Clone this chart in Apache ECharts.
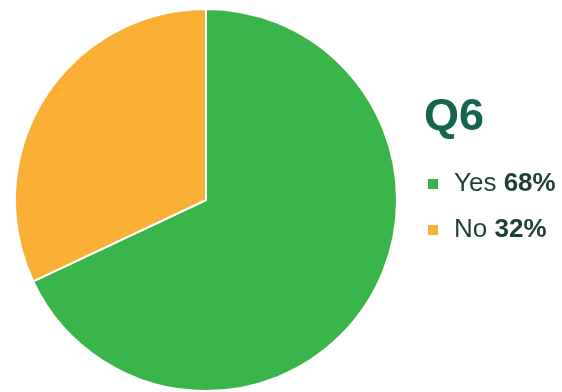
<!DOCTYPE html>
<html>
<head>
<meta charset="utf-8">
<style>
  html, body { margin: 0; padding: 0; background: #ffffff; }
  #chart { width: 562px; height: 392px; }
</style>
<script src="https://cdn.jsdelivr.net/npm/echarts@6/dist/echarts.min.js"></script>
</head>
<body>
<div id="chart"></div>
<script>
// Survey question and answer shares
const questionTitle = 'Q6';
const answers = ['Yes', 'No'];
const shares = [68, 32];
const sliceColors = ['#3ab54a', '#f9b035'];

const FONT = '"Liberation Sans", Arial, sans-serif';
const TEXT_COLOR = '#1d3f37';

const chart = echarts.init(document.getElementById('chart'), null, { renderer: 'canvas' });

const pieData = answers.map((name, i) => ({
  name: name,
  value: shares[i],
  itemStyle: { color: sliceColors[i] }
}));

chart.setOption({
  animation: false,
  backgroundColor: '#ffffff',
  title: {
    text: questionTitle,
    left: 424,
    top: 95,
    padding: 0,
    textStyle: {
      fontFamily: FONT,
      fontSize: 45,
      fontWeight: 'bold',
      color: '#15644f'
    }
  },
  legend: {
    orient: 'vertical',
    left: 426,
    top: 170,
    padding: 0,
    icon: 'rect',
    itemWidth: 12,
    itemHeight: 12,
    itemGap: 18,
    selectedMode: false,
    data: answers,
    formatter: function (name) {
      const idx = answers.indexOf(name);
      return '{n|' + name + '} {b|' + shares[idx] + '%}';
    },
    textStyle: {
      fontFamily: FONT,
      fontSize: 26,
      color: TEXT_COLOR,
      lineHeight: 28,
      rich: {
        n: {
          fontFamily: FONT,
          fontSize: 26,
          color: TEXT_COLOR,
          padding: [0, 0, 0, 10],
          lineHeight: 28
        },
        b: {
          fontFamily: FONT,
          fontSize: 26,
          fontWeight: 'bold',
          color: TEXT_COLOR,
          lineHeight: 28
        }
      }
    }
  },
  series: [{
    type: 'pie',
    center: [206, 200],
    radius: [0, 191],
    startAngle: 90,
    clockwise: true,
    label: { show: false },
    labelLine: { show: false },
    emphasis: { disabled: true },
    itemStyle: {
      borderColor: '#ffffff',
      borderWidth: 2
    },
    data: pieData
  }]
});
</script>
</body>
</html>
